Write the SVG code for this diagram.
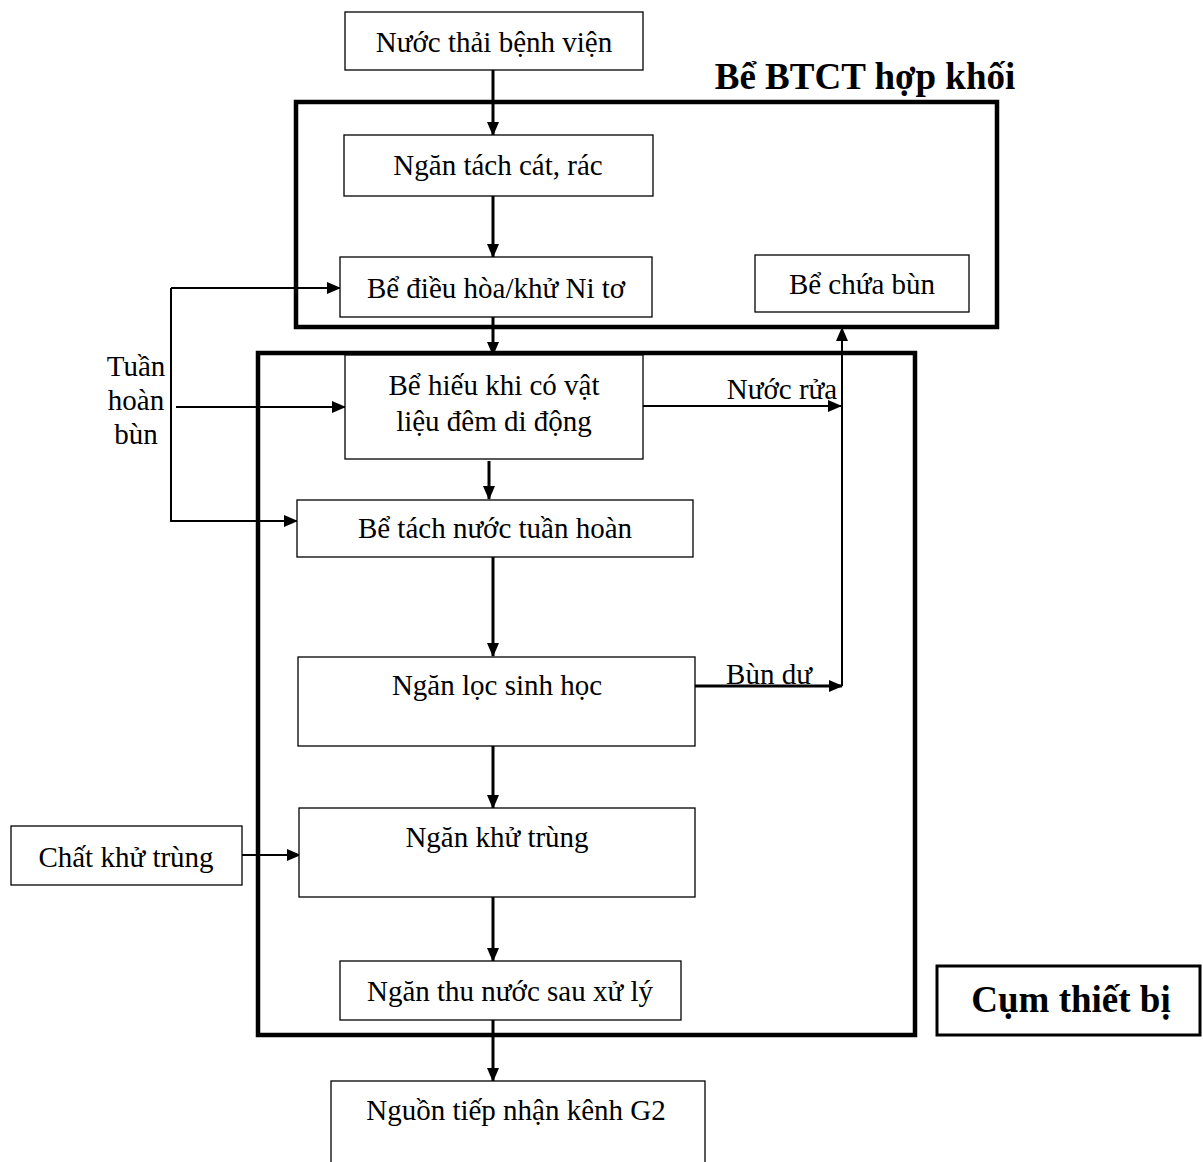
<svg xmlns="http://www.w3.org/2000/svg" width="1203" height="1162" viewBox="0 0 1203 1162">
<defs>
<marker id="ah" markerWidth="14" markerHeight="12" refX="13" refY="6" orient="auto" markerUnits="userSpaceOnUse">
<path d="M0,0 L14,6 L0,12 Z" fill="#000"/>
</marker>
<style>
.box{fill:#fff;stroke:#000;stroke-width:1.3}
.grp{fill:none;stroke:#000;stroke-width:4.5}
.t{font-family:"Liberation Serif","Times New Roman",serif;font-size:29px;fill:#000;text-anchor:middle}
.tb{font-family:"Liberation Serif","Times New Roman",serif;font-size:37px;font-weight:bold;fill:#000;text-anchor:middle}
.c{fill:none;stroke:#000;stroke-width:3}
.c2{fill:none;stroke:#000;stroke-width:2}
</style>
</defs>
<rect width="1203" height="1162" fill="#fff"/>
<g id="group-btct">
<rect class="grp" x="296" y="102" width="701" height="225"/>
<text class="tb" x="865" y="89">Bể BTCT hợp khối</text>
</g>
<g id="group-cumthietbi">
<rect class="grp" x="258" y="353" width="657" height="682"/>
</g>
<g id="label-cumthietbi">
<rect fill="#fff" stroke="#000" stroke-width="3" x="937" y="966" width="263" height="69"/>
<text class="tb" x="1071" y="1012">Cụm thiết bị</text>
</g>
<g id="connectors">
<line class="c" x1="493" y1="70" x2="493" y2="135" marker-end="url(#ah)"/>
<line class="c" x1="493" y1="196" x2="493" y2="257" marker-end="url(#ah)"/>
<line class="c" x1="493" y1="317" x2="493" y2="355" marker-end="url(#ah)"/>
<line class="c" x1="489" y1="461" x2="489" y2="499" marker-end="url(#ah)"/>
<line class="c" x1="493" y1="557" x2="493" y2="656" marker-end="url(#ah)"/>
<line class="c" x1="493" y1="746" x2="493" y2="808" marker-end="url(#ah)"/>
<line class="c" x1="493" y1="897" x2="493" y2="961" marker-end="url(#ah)"/>
<line class="c" x1="493" y1="1020" x2="493" y2="1081" marker-end="url(#ah)"/>
<polyline class="c2" points="171,288 171,521 297,521" marker-end="url(#ah)"/>
<line class="c2" x1="171" y1="288" x2="340" y2="288" marker-end="url(#ah)"/>
<line class="c2" x1="176" y1="407" x2="345" y2="407" marker-end="url(#ah)"/>
<line class="c2" x1="643" y1="406" x2="841" y2="406" marker-end="url(#ah)"/>
<line class="c" x1="695" y1="686" x2="842" y2="686" marker-end="url(#ah)"/>
<line class="c2" x1="842" y1="686" x2="842" y2="328" marker-end="url(#ah)"/>
<line class="c2" x1="242" y1="855" x2="300" y2="855" marker-end="url(#ah)"/>
<text class="t" x="782" y="399">Nước rửa</text>
<text class="t" x="769" y="684">Bùn dư</text>
<text class="t" x="136" y="376">Tuần</text>
<text class="t" x="136" y="410">hoàn</text>
<text class="t" x="136" y="444">bùn</text>
</g>
<g id="n1"><rect class="box" x="345" y="12" width="298" height="58"/><text class="t" x="494" y="52">Nước thải bệnh viện</text></g>
<g id="n2"><rect class="box" x="344" y="135" width="309" height="61"/><text class="t" x="498" y="175">Ngăn tách cát, rác</text></g>
<g id="n3"><rect class="box" x="340" y="257" width="312" height="60"/><text class="t" x="496" y="298">Bể điều hòa/khử Ni tơ</text></g>
<g id="n4"><rect class="box" x="755" y="255" width="214" height="57"/><text class="t" x="862" y="294">Bể chứa bùn</text></g>
<g id="n5"><rect class="box" x="345" y="355" width="298" height="104"/><text class="t" x="494" y="395">Bể hiếu khi có vật</text><text class="t" x="494" y="431">liệu đêm di động</text></g>
<g id="n6"><rect class="box" x="297" y="500" width="396" height="57"/><text class="t" x="495" y="538">Bể tách nước tuần hoàn</text></g>
<g id="n7"><rect class="box" x="298" y="657" width="397" height="89"/><text class="t" x="497" y="695">Ngăn lọc sinh học</text></g>
<g id="n8"><rect class="box" x="299" y="808" width="396" height="89"/><text class="t" x="497" y="847">Ngăn khử trùng</text></g>
<g id="n9"><rect class="box" x="11" y="826" width="231" height="59"/><text class="t" x="126" y="867">Chất khử trùng</text></g>
<g id="n10"><rect class="box" x="340" y="961" width="341" height="59"/><text class="t" x="510" y="1001">Ngăn thu nước sau xử lý</text></g>
<g id="n11"><rect class="box" x="331" y="1081" width="374" height="90"/><text class="t" x="516" y="1120">Nguồn tiếp nhận kênh G2</text></g>
</svg>
